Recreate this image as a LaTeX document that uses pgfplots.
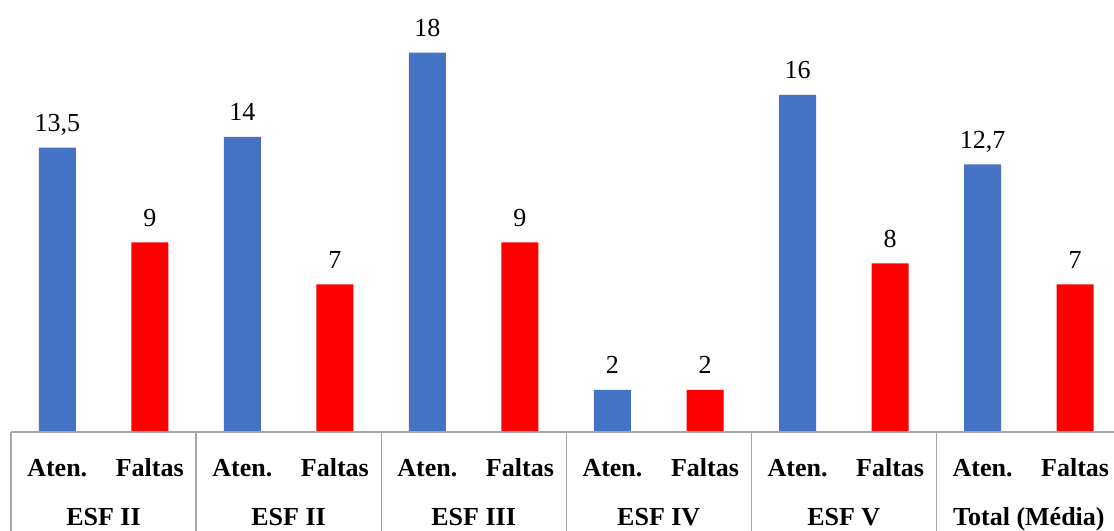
\documentclass[border=0pt]{standalone}
\usepackage{fontspec}
\setmainfont{Liberation Serif}
\usepackage{pgfplots}
\pgfplotsset{compat=1.18}
\definecolor{cblue}{HTML}{4472C4}
\definecolor{cred}{HTML}{FF0000}
\definecolor{cline}{HTML}{A6A6A6}
\begin{document}
\begin{tikzpicture}
\useasboundingbox (-11bp,-99bp) rectangle (1103bp,432bp);
\begin{axis}[
  at={(0,0)}, anchor=south west,
  scale only axis, width=1103bp, height=432bp,
  xmin=0, xmax=11.92, ymin=0, ymax=20.5,
  axis line style={draw=none},
  ytick=\empty,
  major tick length=0pt,
  clip=false,
  ybar, bar width=37bp, bar shift=0pt,
  xtick={0.5,1.5,2.5,3.5,4.5,5.5,6.5,7.5,8.5,9.5,10.5,11.5},
  xticklabels={Aten.,Faltas,Aten.,Faltas,Aten.,Faltas,Aten.,Faltas,Aten.,Faltas,Aten.,Faltas},
  xticklabel style={font=\fontsize{26bp}{31bp}\selectfont\bfseries, anchor=base, yshift=-44bp},
  extra x ticks={1,3,5,7,9,11},
  extra x tick labels={ESF II,ESF II,ESF III,ESF IV,ESF V,Total (Média)},
  extra x tick style={xticklabel style={yshift=-49bp}},
  /pgf/number format/.cd, use comma, 1000 sep={}, assume math mode=true,
  /pgfplots/.cd,
  nodes near coords,
  every node near coord/.append style={font=\fontsize{26bp}{31bp}\selectfont, text=black, anchor=base, yshift=16bp},
]
\addplot[fill=cblue, draw=none] coordinates {(0.5,13.5) (2.5,14) (4.5,18) (6.5,2) (8.5,16) (10.5,12.7)};
\addplot[fill=cred, draw=none] coordinates {(1.5,9) (3.5,7) (5.5,9) (7.5,2) (9.5,8) (11.5,7)};
\draw[cline, line width=1.2bp] (rel axis cs:0,0) -- (rel axis cs:1,0);
\draw[cline, line width=1.2bp] (axis cs:0,0) -- ++(0,-99bp);
\draw[cline, line width=1.2bp] (axis cs:2,0) -- ++(0,-99bp);
\draw[cline, line width=1.2bp] (axis cs:4,0) -- ++(0,-99bp);
\draw[cline, line width=1.2bp] (axis cs:6,0) -- ++(0,-99bp);
\draw[cline, line width=1.2bp] (axis cs:8,0) -- ++(0,-99bp);
\draw[cline, line width=1.2bp] (axis cs:10,0) -- ++(0,-99bp);
\end{axis}
\end{tikzpicture}
\end{document}
